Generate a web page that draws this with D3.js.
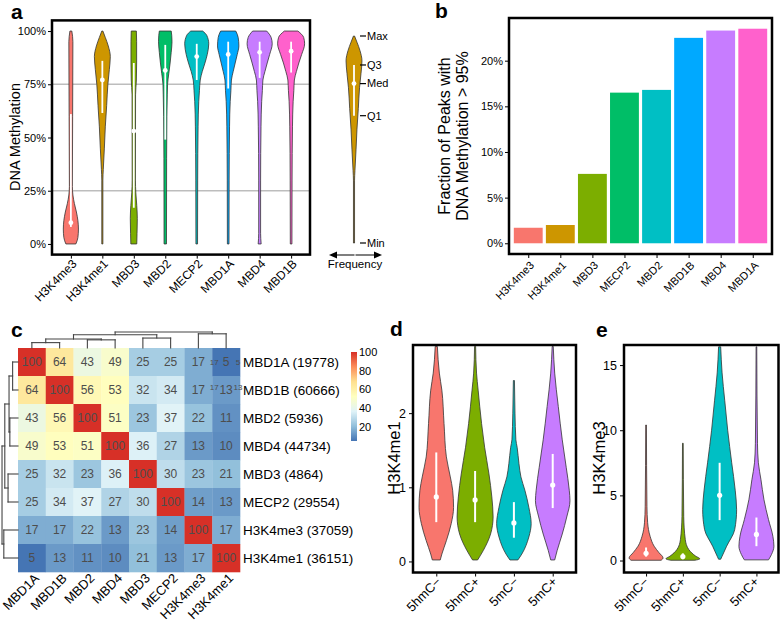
<!DOCTYPE html>
<html><head><meta charset="utf-8">
<script src="https://cdn.jsdelivr.net/npm/d3@7"></script>
<style>body{margin:0;background:#fff}</style>
</head><body>
<script>
// ================= DATA =================
// ---- Panel a: DNA methylation violins ----
const aCategories = ['H3K4me3','H3K4me1','MBD3','MBD2','MECP2','MBD1A','MBD4','MBD1B'];
const aColors = ['#F8766D','#CD9600','#7CAE00','#00BE67','#00BFC4','#00A9FF','#C77CFF','#FF61CC'];
const aQ1  = [8, 61.5, 17, 49, 77, 73, 78, 80.5];
const aMed = [10, 77, 53, 81.5, 88, 89, 90, 90.5];
const aQ3  = [61, 86, 85, 93.5, 94, 95, 95, 95];
// [methylation %, relative density (max 100)]
const densH3K4me3 = [[0,37],[3,52],[7,56],[11,52],[15,41],[19,26],[23,15],[27,11],[60,13],[95,15],[100,7]];
const densH3K4me1 = [[0,4],[30,4],[35,7],[45,15],[55,22],[65,32],[75,41],[82,52],[88,59],[93,44],[97,22],[100,4]];
const densMBD3    = [[0,22],[5,24],[12,26],[18,22],[24,15],[30,12],[70,13],[77,19],[85,21],[95,21],[100,19]];
const densMBD2    = [[0,9],[40,10],[60,12],[70,15],[75,17],[80,26],[85,36],[90,44],[95,50],[98,48],[100,44]];
const densMECP2   = [[0,6],[30,7],[55,10],[67,15],[72,20],[77,26],[81,41],[85,61],[89,78],[94,89],[98,74],[100,44]];
const densMBD1A   = [[0,6],[30,7],[55,10],[67,15],[72,20],[77,24],[81,37],[85,52],[89,67],[93,79],[97,74],[100,56]];
const densMBD4    = [[0,11],[5,7],[30,7],[55,10],[67,15],[72,20],[77,24],[81,39],[85,56],[89,74],[94,93],[97,85],[100,52]];
const densMBD1B   = [[0,6],[30,7],[55,10],[67,15],[72,20],[77,24],[81,39],[85,57],[89,78],[94,100],[97,93],[100,50]];
const aYTicks = [0, 25, 50, 75, 100];
const aGridLines = [25, 75];
const legendLabels = ['Min','Q1','Med','Q3','Max'];

// ---- Panel b: fraction of peaks > 95% ----
const bCategories = ['H3K4me3','H3K4me1','MBD3','MECP2','MBD2','MBD1B','MBD4','MBD1A'];
const bValues = [1.7, 2.0, 7.6, 16.5, 16.8, 22.5, 23.3, 23.5];
const bYTicks = [0, 5, 10, 15, 20];

// ---- Panel c: overlap heatmap ----
const cNames  = ['MBD1A','MBD1B','MBD2','MBD4','MBD3','MECP2','H3K4me3','H3K4me1'];
const cCounts = [19778, 60666, 5936, 44734, 4864, 29554, 37059, 36151];
const cRowMBD1A   = [100, 64, 43, 49, 25, 25, 17, 5];
const cRowMBD1B   = [64, 100, 56, 53, 32, 34, 17, 13];
const cRowMBD2    = [43, 56, 100, 51, 23, 37, 22, 11];
const cRowMBD4    = [49, 53, 51, 100, 36, 27, 13, 10];
const cRowMBD3    = [25, 32, 23, 36, 100, 30, 23, 21];
const cRowMECP2   = [25, 34, 37, 27, 30, 100, 14, 13];
const cRowH3K4me3 = [17, 17, 22, 13, 23, 14, 100, 17];
const cRowH3K4me1 = [5, 13, 11, 10, 21, 13, 17, 100];
// hclust-style merges: [a, b, height] (negative = leaf)
const cMerges = [[-1,-2,0.33],[-3,-4,0.50],[1,2,0.55],[-5,-6,0.61],[3,4,0.81],[-7,-8,0.87],[5,6,0.98]];
const cLegendTicks = [20, 40, 60, 80, 100];
const cPalette = ['#4575b4','#91bfdb','#e0f3f8','#ffffbf','#fee090','#fc8d59','#d73027'];
// stray overlapping labels visible at the right edge of the first two rows
const cStrayRows  = ['MBD1A','MBD1A','MBD1B','MBD1B'];
const cStrayText  = ['17','5','17','13'];
const cStraySide  = [0, 1, 0, 1];

// ---- Panel d / e ----
const deCategories = ['5hmC\u2212','5hmC+','5mC\u2212','5mC+'];
const deColors = ['#F8766D','#7CAE00','#00BFC4','#C77CFF'];
const dQ1  = [0.53, 0.53, 0.32, 0.72];
const dMed = [0.87, 0.83, 0.52, 1.03];
const dQ3  = [1.47, 1.22, 0.80, 1.45];
const densD_5hmCm = [[0.02,22],[0.1,31],[0.28,56],[0.51,83],[0.73,96],[0.96,91],[1.14,78],[1.41,56],[1.86,43],[2.31,31],[2.54,17],[2.9,6]];
const densD_5hmCp = [[0.02,14],[0.15,46],[0.37,86],[0.6,100],[0.87,93],[1.18,77],[1.54,53],[1.86,36],[2.31,17],[2.54,8],[2.9,3]];
const densD_5mCm  = [[0.02,22],[0.1,44],[0.33,83],[0.51,96],[0.73,83],[0.96,61],[1.14,39],[1.32,28],[1.54,18],[1.64,11],[2.0,6],[2.44,3]];
const densD_5mCp  = [[0.02,11],[0.15,25],[0.37,53],[0.6,78],[0.82,96],[0.96,92],[1.27,75],[1.64,53],[2.09,31],[2.54,11],[2.9,3]];
const dYTicks = [0, 1, 2];

const eQ1  = [0.3, 0.1, 3.1, 1.1];
const eMed = [0.55, 0.3, 5.0, 2.0];
const eQ3  = [1.0, 0.55, 7.5, 3.3];
const densE_5hmCm = [[0.02,86],[0.2,97],[0.6,74],[1.1,46],[1.86,23],[2.9,9],[4.16,5],[10.4,2]];
const densE_5hmCp = [[0.02,69],[0.13,97],[0.33,74],[0.84,34],[1.6,14],[3.4,5],[9.0,2]];
const densE_5mCm  = [[0.1,6],[0.33,14],[1.1,40],[2.37,86],[3.9,97],[5.4,89],[7.5,69],[10.0,46],[12.3,29],[14.4,14],[16.4,6]];
const densE_5mCp  = [[0.05,69],[0.46,86],[1.1,100],[1.86,94],[3.14,69],[4.67,43],[6.2,26],[7.5,11],[9.0,6],[16.4,2]];
const eYTicks = [0, 5, 10, 15];

// ================= DRAWING =================
const FONT = "'Liberation Sans', Arial, Helvetica, sans-serif";
const svg = d3.select('body').append('svg')
  .attr('width', 780).attr('height', 623)
  .style('font-family', FONT).style('background', '#fff');

function styleAxis(g, size) {
  g.select('.domain').remove();
  g.selectAll('.tick line').attr('stroke', '#000').attr('stroke-width', 1);
  g.selectAll('.tick text').attr('fill', '#000').attr('font-size', size).attr('font-family', FONT);
  g.attr('font-family', FONT);
}
function rotateLabels(g, dx, dy, size) {
  g.selectAll('.tick text').attr('x', 0).attr('y', 0).attr('dy', null)
    .attr('text-anchor', 'end').attr('font-size', size)
    .attr('transform', `translate(${dx},${dy}) rotate(-45)`);
}
function violin(g, dens, cx, yS, wS, color, sw) {
  const area = d3.area().curve(d3.curveMonotoneY)
    .y(d => yS(d[0])).x0(d => cx - wS(d[1])).x1(d => cx + wS(d[1]));
  g.append('path').attr('d', area(dens)).attr('fill', color)
    .attr('stroke', '#333').attr('stroke-width', sw);
}
function pointRange(g, cx, yS, q1, med, q3, lw, r) {
  g.append('line').attr('x1', cx).attr('x2', cx).attr('y1', yS(q1)).attr('y2', yS(q3))
    .attr('stroke', '#fff').attr('stroke-width', lw);
  g.append('circle').attr('cx', cx).attr('cy', yS(med)).attr('r', r).attr('fill', '#fff');
}
function frame(g, xS, yS, sw) {
  const [x0, x1] = xS.range(), [y0, y1] = yS.range();
  g.append('rect').attr('x', x0).attr('y', Math.min(y0, y1)).attr('width', x1 - x0)
    .attr('height', Math.abs(y0 - y1)).attr('fill', 'none').attr('stroke', '#000').attr('stroke-width', sw);
}
function panelLetter(x, y, t) {
  svg.append('text').attr('x', x).attr('y', y).text(t)
    .attr('font-size', 21).attr('font-weight', 'bold').attr('fill', '#000');
}

// ---------- Panel a ----------
{
  const g = svg.append('g');
  const xA = d3.scaleLinear().domain([0.4, 8.6]).range([52, 310]);
  const yA = d3.scaleLinear().domain([-5, 105]).range([254.6, 20.4]);
  const wA = d3.scaleLinear().domain([0, 100]).range([0, 13.5]);
  const dens = [densH3K4me3, densH3K4me1, densMBD3, densMBD2, densMECP2, densMBD1A, densMBD4, densMBD1B];

  g.selectAll('line.grid').data(aGridLines).join('line').attr('class', 'grid')
    .attr('x1', xA.range()[0]).attr('x2', xA.range()[1])
    .attr('y1', d => yA(d)).attr('y2', d => yA(d))
    .attr('stroke', '#bdbdbd').attr('stroke-width', 1.4);

  aCategories.forEach((c, i) => {
    const cx = xA(i + 1);
    violin(g, dens[i], cx, yA, wA, aColors[i], 0.8);
    pointRange(g, cx, yA, aQ1[i], aMed[i], aQ3[i], 1.8, 2.4);
  });
  frame(g, xA, yA, 2.5);

  const ya = g.append('g').attr('transform', `translate(${xA.range()[0] - 1},0)`)
    .call(d3.axisLeft(yA).tickValues(aYTicks).tickFormat(d => d + '%').tickSize(3).tickPadding(2));
  styleAxis(ya, 11);
  const xa = g.append('g').attr('transform', `translate(0,${yA.range()[0] + 1})`)
    .call(d3.axisBottom(xA).tickValues(d3.range(1, 9)).tickFormat(i => aCategories[i - 1]).tickSize(3));
  styleAxis(xa, 12);
  rotateLabels(xa, 6, 9, 12);

  g.append('text').attr('transform', `translate(19.5,137) rotate(-90)`)
    .attr('text-anchor', 'middle').attr('font-size', 14.5).text('DNA Methylation');

  // legend violin (key)
  const lx = 354;
  const yL = d3.scaleLinear().domain([0, 100]).range([243, 36]);
  violin(g, densH3K4me1, lx, yL, wA, aColors[1], 0.8);
  pointRange(g, lx, yL, aQ1[1], aMed[1], aQ3[1], 1.8, 2.4);
  const lVals = [0, aQ1[1], aMed[1], aQ3[1], 100];
  legendLabels.forEach((t, i) => {
    const y = yL(lVals[i]);
    g.append('line').attr('x1', 360).attr('x2', 366).attr('y1', y).attr('y2', y)
      .attr('stroke', '#000').attr('stroke-width', 1.2);
    g.append('text').attr('x', 367).attr('y', y).attr('dy', '0.35em')
      .attr('font-size', 11).text(t);
  });
  // frequency double arrow
  g.append('line').attr('x1', 333).attr('x2', 378).attr('y1', 255).attr('y2', 255)
    .attr('stroke', '#000').attr('stroke-width', 1.2);
  g.append('path').attr('d', 'M329,255 L337,251.5 L337,258.5 Z').attr('fill', '#000');
  g.append('path').attr('d', 'M382,255 L374,251.5 L374,258.5 Z').attr('fill', '#000');
  g.append('line').attr('x1', 355).attr('x2', 355).attr('y1', 253).attr('y2', 257)
    .attr('stroke', '#fff').attr('stroke-width', 1);
  g.append('text').attr('x', 355).attr('y', 268).attr('text-anchor', 'middle')
    .attr('font-size', 11.5).text('Frequency');
  panelLetter(11, 19, 'a');
}

// ---------- Panel b ----------
{
  const g = svg.append('g');
  const xB = d3.scaleLinear().domain([0.4, 8.6]).range([509, 772]);
  const yB = d3.scaleLinear().domain([-1.175, 24.675]).range([254, 18]);
  g.selectAll('rect.bar').data(bValues).join('rect').attr('class', 'bar')
    .attr('x', (d, i) => xB(i + 1 - 0.45)).attr('width', (d, i) => xB(i + 1.45) - xB(i + 1 - 0.45))
    .attr('y', d => yB(d)).attr('height', d => yB(0) - yB(d))
    .attr('fill', (d, i) => aColors[i]);
  frame(g, xB, yB, 2.5);
  const ya = g.append('g').attr('transform', `translate(${xB.range()[0] - 1},0)`)
    .call(d3.axisLeft(yB).tickValues(bYTicks).tickFormat(d => d + '%').tickSize(3).tickPadding(2));
  styleAxis(ya, 11);
  const xa = g.append('g').attr('transform', `translate(0,${yB.range()[0] + 1})`)
    .call(d3.axisBottom(xB).tickValues(d3.range(1, 9)).tickFormat(i => bCategories[i - 1]).tickSize(3));
  styleAxis(xa, 11);
  rotateLabels(xa, 6, 11, 11);
  g.append('text').attr('transform', `translate(450,136) rotate(-90)`)
    .attr('text-anchor', 'middle').attr('font-size', 16).text('Fraction of Peaks with');
  g.append('text').attr('transform', `translate(467.5,136) rotate(-90)`)
    .attr('text-anchor', 'middle').attr('font-size', 16).text('DNA Methylation > 95%');
  panelLetter(435, 18, 'b');
}

// ---------- Panel c ----------
{
  const g = svg.append('g');
  const cValues = [cRowMBD1A, cRowMBD1B, cRowMBD2, cRowMBD4, cRowMBD3, cRowMECP2, cRowH3K4me3, cRowH3K4me1];
  const xC = d3.scaleBand().domain(cNames).range([18, 240]);
  const yC = d3.scaleBand().domain(cNames).range([348, 572]);
  const col = d3.scaleLinear().domain(d3.range(7).map(i => 5 + i * 95 / 6)).range(cPalette);
  const cells = [];
  cValues.forEach((row, r) => row.forEach((v, c) => cells.push({ r: cNames[r], c: cNames[c], v })));
  g.selectAll('rect.cell').data(cells).join('rect').attr('class', 'cell')
    .attr('x', d => xC(d.c)).attr('y', d => yC(d.r))
    .attr('width', xC.bandwidth() + 0.3).attr('height', yC.bandwidth() + 0.3)
    .attr('fill', d => col(d.v));
  g.selectAll('text.num').data(cells).join('text').attr('class', 'num')
    .attr('x', d => xC(d.c) + xC.bandwidth() / 2).attr('y', d => yC(d.r) + yC.bandwidth() / 2)
    .attr('dy', '0.36em').attr('text-anchor', 'middle').attr('font-size', 12)
    .attr('fill', '#4d4d4d').text(d => d.v);
  // stray small labels
  const lastCol = cNames[cNames.length - 1];
  cStrayText.forEach((t, i) => {
    const x = xC(lastCol) + (cStraySide[i] ? xC.bandwidth() - 2 : 2);
    const y = yC(cStrayRows[i]) + yC.bandwidth() / 2 - (cStrayRows[i] === 'MBD1B' ? 3 : 0);
    g.append('text').attr('x', x).attr('y', y).attr('dy', '0.36em').attr('text-anchor', 'middle')
      .attr('font-size', 8).attr('fill', '#4d4d4d').text(t);
  });
  // row labels
  g.selectAll('text.row').data(cNames).join('text').attr('class', 'row')
    .attr('x', 243).attr('y', d => yC(d) + yC.bandwidth() / 2).attr('dy', '0.36em')
    .attr('font-size', 13.5).text((d, i) => `${d} (${cCounts[i]})`);
  // column labels
  g.selectAll('text.colname').data(cNames).join('text').attr('class', 'colname')
    .attr('text-anchor', 'end').attr('font-size', 13)
    .attr('transform', d => `translate(${xC(d) + xC.bandwidth() / 2 + 8},${579}) rotate(-45)`)
    .text(d => d);
  // dendrograms
  const pos = [], hgt = [];
  const P = k => k < 0 ? -k - 1 : pos[k - 1];
  const Hh = k => k < 0 ? 0 : hgt[k - 1];
  cMerges.forEach(([a, b, h]) => { pos.push((P(a) + P(b)) / 2); hgt.push(h); });
  const dTop = d3.scaleLinear().domain([0, 1]).range([348, 331.7]);
  const dLeft = d3.scaleLinear().domain([0, 1]).range([18, 1.7]);
  const leafX = p => xC.range()[0] + xC.bandwidth() * (p + 0.5);
  const leafY = p => yC.range()[0] + yC.bandwidth() * (p + 0.5);
  const segs = [];
  cMerges.forEach(([a, b, h]) => {
    [a, b].forEach(k => segs.push([P(k), Hh(k), P(k), h]));
    segs.push([P(a), h, P(b), h]);
  });
  g.selectAll('line.dt').data(segs).join('line').attr('class', 'dt')
    .attr('x1', d => leafX(d[0])).attr('x2', d => leafX(d[2]))
    .attr('y1', d => dTop(d[1])).attr('y2', d => dTop(d[3]))
    .attr('stroke', '#444').attr('stroke-width', 1.1).attr('stroke-linecap', 'square');
  g.selectAll('line.dl').data(segs).join('line').attr('class', 'dl')
    .attr('y1', d => leafY(d[0])).attr('y2', d => leafY(d[2]))
    .attr('x1', d => dLeft(d[1])).attr('x2', d => dLeft(d[3]))
    .attr('stroke', '#444').attr('stroke-width', 1.1).attr('stroke-linecap', 'square');
  // color legend
  const yLeg = d3.scaleLinear().domain([5, 100]).range([441, 352]);
  const defs = svg.append('defs');
  const grad = defs.append('linearGradient').attr('id', 'hmgrad')
    .attr('x1', 0).attr('x2', 0).attr('y1', 1).attr('y2', 0);
  cPalette.forEach((c, i) => grad.append('stop').attr('offset', i / 6).attr('stop-color', c));
  g.append('rect').attr('x', 351).attr('y', yLeg(100)).attr('width', 6)
    .attr('height', yLeg(5) - yLeg(100)).attr('fill', 'url(#hmgrad)');
  g.selectAll('text.leg').data(cLegendTicks).join('text').attr('class', 'leg')
    .attr('x', 359).attr('y', d => yLeg(d)).attr('dy', '0.36em').attr('font-size', 11).text(d => d);
  panelLetter(11, 337, 'c');
}

// ---------- Panels d and e ----------
function deViolins(opts) {
  const g = svg.append('g');
  const xS = d3.scaleLinear().domain([0.4, 4.6]).range(opts.xr);
  const yS = d3.scaleLinear().domain(opts.yd).range([572.5, 345]);
  const wS = d3.scaleLinear().domain([0, 100]).range([0, opts.maxw]);
  deCategories.forEach((c, i) => {
    const cx = xS(i + 1);
    violin(g, opts.dens[i], cx, yS, wS, deColors[i], 0.8);
    pointRange(g, cx, yS, opts.q1[i], opts.med[i], opts.q3[i], 2, 2.6);
  });
  frame(g, xS, yS, 2.5);
  const ya = g.append('g').attr('transform', `translate(${opts.xr[0] - 1},0)`)
    .call(d3.axisLeft(yS).tickValues(opts.ticks).tickFormat(d3.format('d')).tickSize(3).tickPadding(3));
  styleAxis(ya, 12.5);
  const xa = g.append('g').attr('transform', `translate(0,${573.5})`)
    .call(d3.axisBottom(xS).tickValues(d3.range(1, 5)).tickFormat(i => deCategories[i - 1]).tickSize(3));
  styleAxis(xa, 13);
  rotateLabels(xa, opts.ldx, 9, 13);
  g.append('text').attr('transform', `translate(${opts.tx},458) rotate(-90)`)
    .attr('text-anchor', 'middle').attr('font-size', 16.5).text(opts.title);
}
deViolins({ xr: [413, 576], yd: [-0.149, 2.919], maxw: 18,
  dens: [densD_5hmCm, densD_5hmCp, densD_5mCm, densD_5mCp],
  q1: dQ1, med: dMed, q3: dQ3, ticks: dYTicks, title: 'H3K4me1', tx: 399.5, ldx: 5 });
deViolins({ xr: [624, 778.5], yd: [-0.919, 16.54], maxw: 17.5,
  dens: [densE_5hmCm, densE_5hmCp, densE_5mCm, densE_5mCp],
  q1: eQ1, med: eMed, q3: eQ3, ticks: eYTicks, title: 'H3K4me3', tx: 605, ldx: 3 });
panelLetter(390, 336, 'd');
panelLetter(596, 337, 'e');
</script>
</body></html>
